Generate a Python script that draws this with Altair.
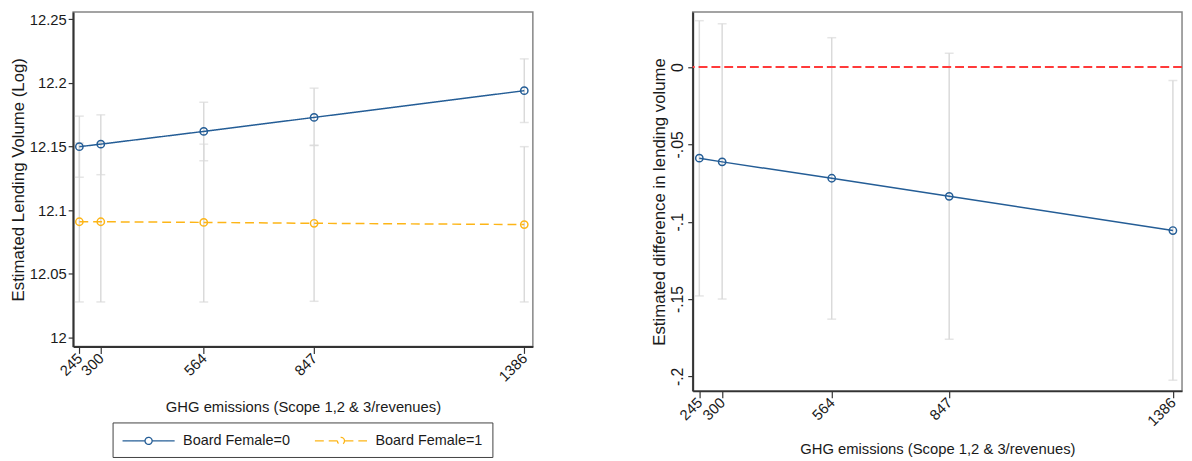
import altair as alt
import pandas as pd

# ---------------- data ----------------
X_VALUES = [245, 300, 564, 847, 1386]
X_LABELS = ["245", "300", "564", "847", "1386"]

SERIES = ["Board Female=0", "Board Female=1"]

F0_MEAN = [12.150, 12.152, 12.162, 12.173, 12.194]
F0_LO = [12.126, 12.128, 12.139, 12.151, 12.169]
F0_HI = [12.174, 12.175, 12.185, 12.196, 12.219]

F1_MEAN = [12.091, 12.091, 12.0905, 12.0898, 12.0888]
F1_LO = [12.028, 12.028, 12.028, 12.0285, 12.028]
F1_HI = [12.153, 12.153, 12.152, 12.151, 12.150]

DIFF_MEAN = [-0.0589, -0.0613, -0.0719, -0.0836, -0.1057]
DIFF_LO = [-0.148, -0.150, -0.163, -0.176, -0.2025]
DIFF_HI = [0.030, 0.028, 0.019, 0.009, -0.0087]

REF_LINE = [0]

Y1_TICKS = [12, 12.05, 12.1, 12.15, 12.2, 12.25]
Y1_LABELS = ["12", "12.05", "12.1", "12.15", "12.2", "12.25"]
Y2_TICKS = [0, -0.05, -0.1, -0.15, -0.2]
Y2_LABELS = ["0", "-.05", "-.1", "-.15", "-.2"]

X_TITLE = "GHG emissions (Scope 1,2 & 3/revenues)"
Y1_TITLE = "Estimated Lending Volume (Log)"
Y2_TITLE = "Estimated difference in lending volume"

# ---------------- styling ----------------
BLUE = "#245d96"
ORANGE = "#fdb517"
GREY = "#dadada"
RED = "#ff3a3a"
INK = "#1a1a1a"
FONT = "Liberation Sans"

X_DOMAIN = [229, 1408]
Y1_DOMAIN = [11.993, 12.2558]
Y2_DOMAIN = [-0.2094, 0.0356]


def label_expr(values, labels):
    parts = [f"abs(datum.value - ({v})) < 1e-9 ? '{l}'" for v, l in zip(values, labels)]
    return " : ".join(parts) + " : ''"


rows = []
for name, m, lo, hi in [(SERIES[0], F0_MEAN, F0_LO, F0_HI),
                        (SERIES[1], F1_MEAN, F1_LO, F1_HI)]:
    for x, a, b, c in zip(X_VALUES, m, lo, hi):
        rows.append({"x": x, "series": name, "mean": a, "lo": b, "hi": c})
left_df = pd.DataFrame(rows)
right_df = pd.DataFrame({"x": X_VALUES, "mean": DIFF_MEAN, "lo": DIFF_LO, "hi": DIFF_HI})
ref_df = pd.DataFrame({"ref": REF_LINE})


def x_enc(title_pad):
    return alt.X(
        "x:Q",
        scale=alt.Scale(domain=X_DOMAIN, nice=False, zero=False),
        axis=alt.Axis(
            title=X_TITLE, values=X_VALUES,
            labelExpr=label_expr(X_VALUES, X_LABELS),
            labelAngle=315, labelAlign="right", labelBaseline="middle",
            labelOverlap=False,
            labelFontSize=15, titleFontSize=15, labelPadding=2, titlePadding=title_pad,
            tickSize=7, grid=False,
        ),
    )


# ---------------- left panel ----------------
y1_scale = alt.Scale(domain=Y1_DOMAIN, nice=False, zero=False)
y1_axis = alt.Axis(
    title=Y1_TITLE, values=Y1_TICKS, labelExpr=label_expr(Y1_TICKS, Y1_LABELS),
    labelFontSize=15, titleFontSize=17, tickSize=5, labelPadding=2, titlePadding=2, grid=False,
)

PATH = ("M-3.3,0H-0.45 A0.45,0.45 0 1,1 0.45,0 A0.45,0.45 0 1,1 -0.45,0 "
        "M0.45,0H3.3")
legend = alt.Legend(
    title=None, orient="none", legendX=40, legendY=416, direction="horizontal",
    columns=2, symbolType=PATH, symbolSize=256, symbolStrokeWidth=1.3,
    symbolOffset=18, labelOffset=26, labelFontSize=14.6, labelColor=INK,
    strokeColor="#404040", padding=9.5, columnPadding=22, fillColor="white",
)
color = alt.Color("series:N", scale=alt.Scale(domain=SERIES, range=[BLUE, ORANGE]), legend=legend)
dash = alt.StrokeDash("series:N", scale=alt.Scale(domain=SERIES, range=[[1, 0], [9, 5]]), legend=legend)

lbase = alt.Chart(left_df)
l_ci = lbase.mark_rule(color=GREY, strokeWidth=1.5).encode(
    x=x_enc(16), y=alt.Y("lo:Q", scale=y1_scale, axis=y1_axis), y2="hi:Q")
l_cap_lo = lbase.mark_tick(color=GREY, orient="horizontal", size=9, thickness=1.5).encode(
    x="x:Q", y="lo:Q")
l_cap_hi = lbase.mark_tick(color=GREY, orient="horizontal", size=9, thickness=1.5).encode(
    x="x:Q", y="hi:Q")
l_line = lbase.mark_line(strokeWidth=1.5).encode(
    x="x:Q", y="mean:Q", color=color, strokeDash=dash)
l_pts = lbase.mark_point(filled=False, size=55, strokeWidth=1.5, opacity=1).encode(
    x="x:Q", y="mean:Q", color=color)

left = alt.layer(l_ci, l_cap_lo, l_cap_hi, l_line, l_pts).properties(width=466, height=339)

# ---------------- right panel ----------------
y2_scale = alt.Scale(domain=Y2_DOMAIN, nice=False, zero=False)
y2_axis = alt.Axis(
    title=Y2_TITLE, values=Y2_TICKS, labelExpr=label_expr(Y2_TICKS, Y2_LABELS),
    labelAngle=270, labelAlign="center", labelBaseline="bottom",
    labelFontSize=16, titleFontSize=17, tickSize=5, labelPadding=2, titlePadding=2, grid=False,
)
rbase = alt.Chart(right_df)
r_ci = rbase.mark_rule(color=GREY, strokeWidth=1.5).encode(
    x=x_enc(13), y=alt.Y("lo:Q", scale=y2_scale, axis=y2_axis), y2="hi:Q")
r_cap_lo = rbase.mark_tick(color=GREY, orient="horizontal", size=9, thickness=1.5).encode(
    x="x:Q", y="lo:Q")
r_cap_hi = rbase.mark_tick(color=GREY, orient="horizontal", size=9, thickness=1.5).encode(
    x="x:Q", y="hi:Q")
r_ref = alt.Chart(ref_df).mark_rule(color=RED, strokeWidth=2, strokeDash=[9, 4]).encode(
    y=alt.Y("ref:Q"))
r_line = rbase.mark_line(color=BLUE, strokeWidth=1.5).encode(x="x:Q", y="mean:Q")
r_pts = rbase.mark_point(color=BLUE, filled=False, size=55, strokeWidth=1.5, opacity=1).encode(
    x="x:Q", y="mean:Q")

right = alt.layer(r_ci, r_cap_lo, r_cap_hi, r_ref, r_line, r_pts).properties(width=496, height=384)

chart = (
    alt.hconcat(left, right, spacing=117)
    .resolve_scale(color="independent", strokeDash="independent")
    .properties(padding={"left": 0, "top": 0, "right": 0, "bottom": 0}, background="white")
    .configure(font=FONT)
    .configure_axis(
        labelFont=FONT, titleFont=FONT, labelColor=INK, titleColor=INK,
        titleFontWeight="normal", tickColor="#333333", domainColor="#333333",
        domainWidth=2, tickWidth=1.2,
    )
    .configure_view(stroke="#858585", strokeWidth=1.5)
    .configure_legend(labelFont=FONT)
)

chart.save("out.html", embed_options={"renderer": "svg", "actions": False})
